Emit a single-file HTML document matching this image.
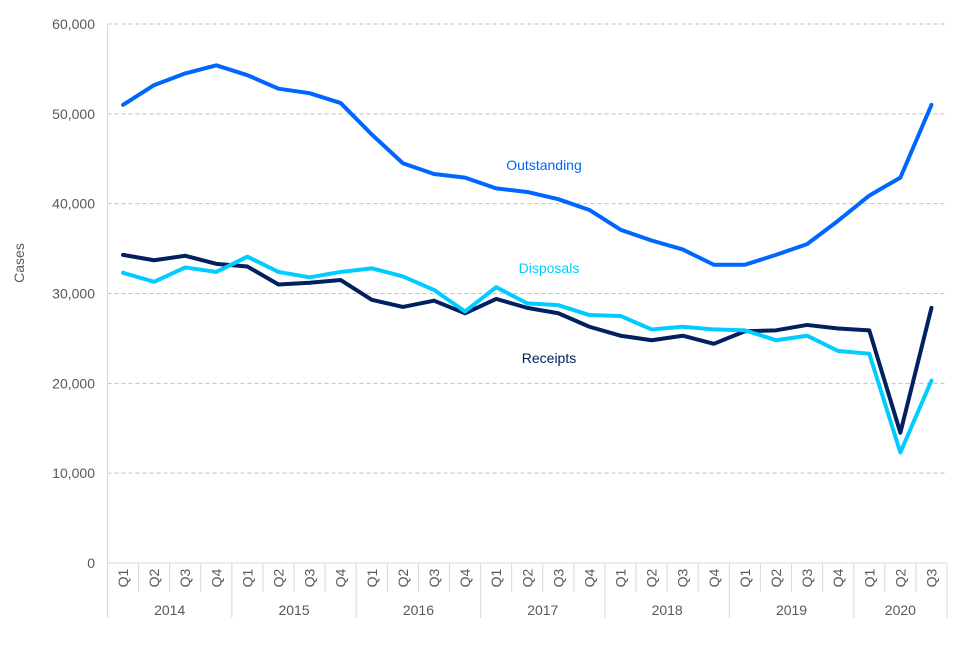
<!DOCTYPE html>
<html><head><meta charset="utf-8"><style>
body{margin:0;background:#fff;font-family:"Liberation Sans",Arial,sans-serif}
svg text{font-family:"Liberation Sans",Arial,sans-serif}
</style></head><body>
<svg id="chart" width="960" height="640"></svg>
<script>
const years=["2014","2015","2016","2017","2018","2019","2020"];
const quarters=["Q1","Q2","Q3","Q4","Q1","Q2","Q3","Q4","Q1","Q2","Q3","Q4","Q1","Q2","Q3","Q4","Q1","Q2","Q3","Q4","Q1","Q2","Q3","Q4","Q1","Q2","Q3"];
const outstanding=[51000,53200,54500,55400,54300,52800,52300,51200,47700,44500,43300,42900,41700,41300,40500,39300,37100,35900,34900,33200,33200,34300,35500,38100,40900,42900,51000];
const disposals=[32300,31300,32900,32400,34100,32400,31800,32400,32800,31900,30400,28000,30700,28900,28700,27600,27500,26000,26300,26000,25900,24800,25300,23600,23300,12300,20300];
const receipts=[34300,33700,34200,33300,33000,31000,31200,31500,29300,28500,29200,27800,29400,28400,27800,26300,25300,24800,25300,24400,25800,25900,26500,26100,25900,14500,28400];
const yTicks=[0,10000,20000,30000,40000,50000,60000];
const svg=document.getElementById('chart');
const NS='http://www.w3.org/2000/svg';
const X0=107.5,X1=947,Y0=563,Y1=24,YMAX=60000;
const bw=(X1-X0)/quarters.length;
const xs=i=>X0+bw*(i+0.5);
const ys=v=>Y0-(v/YMAX)*(Y0-Y1);
function mk(t,a){const e=document.createElementNS(NS,t);for(const k in a)e.setAttribute(k,a[k]);svg.appendChild(e);return e;}
yTicks.forEach(v=>{
 if(v>0){const g=mk('line',{x1:X0,x2:X1,y1:ys(v),y2:ys(v),stroke:'#c0c0c0','stroke-dasharray':'4,3','stroke-width':1});
 
 }
 const t=mk('text',{x:95,y:ys(v)+5,'text-anchor':'end','font-size':14,fill:'#595959'});
 t.textContent=v.toLocaleString('en-US');
 
 
});
const yaxis=mk('line',{x1:X0,x2:X0,y1:Y1,y2:Y0,stroke:'#d9d9d9'});


const xaxis=mk('line',{x1:X0,x2:X1,y1:Y0,y2:Y0,stroke:'#d9d9d9'});


const yt=mk('text',{x:24,y:263,'text-anchor':'middle','font-size':14,fill:'#595959',transform:'rotate(-90 24 263)'});
yt.textContent='Cases';


quarters.forEach((q,i)=>{
 const xl=X0+bw*i;
 const tk=mk('line',{x1:xl,x2:xl,y1:Y0,y2:i%4==0?618:592,stroke:'#d9d9d9'});
 
 
 const cx=xs(i),cy=578;
 const t=mk('text',{x:cx+5,y:cy,'text-anchor':'middle','font-size':14,fill:'#595959',transform:`rotate(-90 ${cx+5} ${cy})`});
 t.textContent=q;
 
 
});
const endt=mk('line',{x1:X1,x2:X1,y1:Y0,y2:618,stroke:'#d9d9d9'});


years.forEach((y,k)=>{
 const n=Math.min(4,quarters.length-k*4);
 const cx=X0+bw*(k*4+n/2);
 const t=mk('text',{x:cx,y:615,'text-anchor':'middle','font-size':14,fill:'#595959'});
 t.textContent=y;
 
 
});
function line(data,color,name){
 const p=mk('polyline',{points:data.map((v,i)=>xs(i)+','+ys(v)).join(' '),fill:'none',stroke:color,'stroke-width':4,'stroke-linejoin':'round','stroke-linecap':'round'});
 
 
}
line(receipts,'#002060','receipts-line');
line(disposals,'#00ccff','disposals-line');
line(outstanding,'#0066ff','outstanding-line');
function lab(txt,x,y,c,name){const t=mk('text',{x:x,y:y,'text-anchor':'middle','font-size':14,fill:c});t.textContent=txt;
 
 }
lab('Outstanding',544,170,'#0066ff','outstanding-label');
lab('Disposals',549,273,'#00ccff','disposals-label');
lab('Receipts',549,363,'#002060','receipts-label');
</script>
</body></html>
